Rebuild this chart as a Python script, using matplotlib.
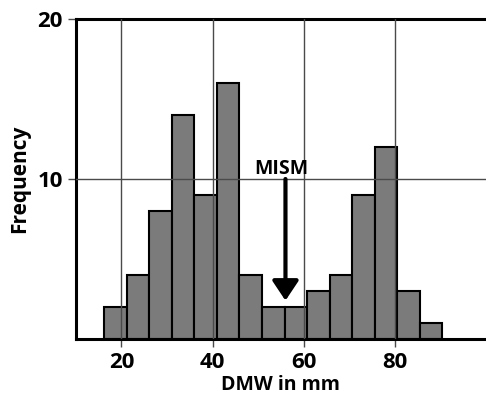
import matplotlib
matplotlib.use('Agg')
import matplotlib.pyplot as plt

# histogram of DMW values (bin edges in mm, counts per bin)
bin_edges = [16.2, 21.15, 26.1, 31.05, 36.0, 40.95, 45.9, 50.85, 55.8,
             60.75, 65.7, 70.65, 75.6, 80.55, 85.5, 90.45]
counts = [2, 4, 8, 14, 9, 16, 4, 2, 2, 3, 4, 9, 12, 3, 1]

x_ticks = [20, 40, 60, 80]
y_ticks = [10, 20]

mism_x = 56
mism_from = 10
mism_to = 2.4

plt.rcParams['font.family'] = ['Open Sans', 'DejaVu Sans']

fig = plt.figure(figsize=(4.86, 4.0), dpi=100)
ax = fig.add_axes([0.156, 0.1525, 0.844, 0.8])

lefts = bin_edges[:-1]
widths = [b - a for a, b in zip(bin_edges[:-1], bin_edges[1:])]
ax.bar(lefts, counts, width=widths, align='edge', color='#7b7b7b',
       edgecolor='black', linewidth=1.5, zorder=2)

# grid lines drawn over the bars, like the original
for xv in x_ticks:
    ax.axvline(xv, color='#4a4a4a', lw=1, zorder=3)
ax.axhline(10, color='#4a4a4a', lw=1, zorder=3)

ax.annotate('', xy=(mism_x, mism_to), xytext=(mism_x, mism_from),
            arrowprops=dict(arrowstyle='-|>,head_width=0.4,head_length=0.6',
                            lw=3, color='black', mutation_scale=20,
                            shrinkA=0, shrinkB=0), zorder=4)
ax.text(mism_x - 1, 10.65, 'MISM', ha='center', va='center', fontsize=14,
        fontweight='bold', zorder=4)

ax.set_xlim(10, 100)
ax.set_ylim(0, 20)
ax.set_xticks(x_ticks)
ax.set_yticks(y_ticks)
ax.tick_params(axis='both', labelsize=16, length=6, width=1, color='#4a4a4a')
for lab in ax.get_xticklabels() + ax.get_yticklabels():
    lab.set_fontweight('bold')

ax.set_xlabel('DMW in mm', fontsize=14, fontweight='bold', labelpad=1)
ax.set_ylabel('Frequency', fontsize=15, fontweight='bold', labelpad=5)

for s in ['left', 'bottom', 'top']:
    ax.spines[s].set_linewidth(2.2)
ax.spines['right'].set_visible(False)

fig.savefig('out.png', dpi=100)
